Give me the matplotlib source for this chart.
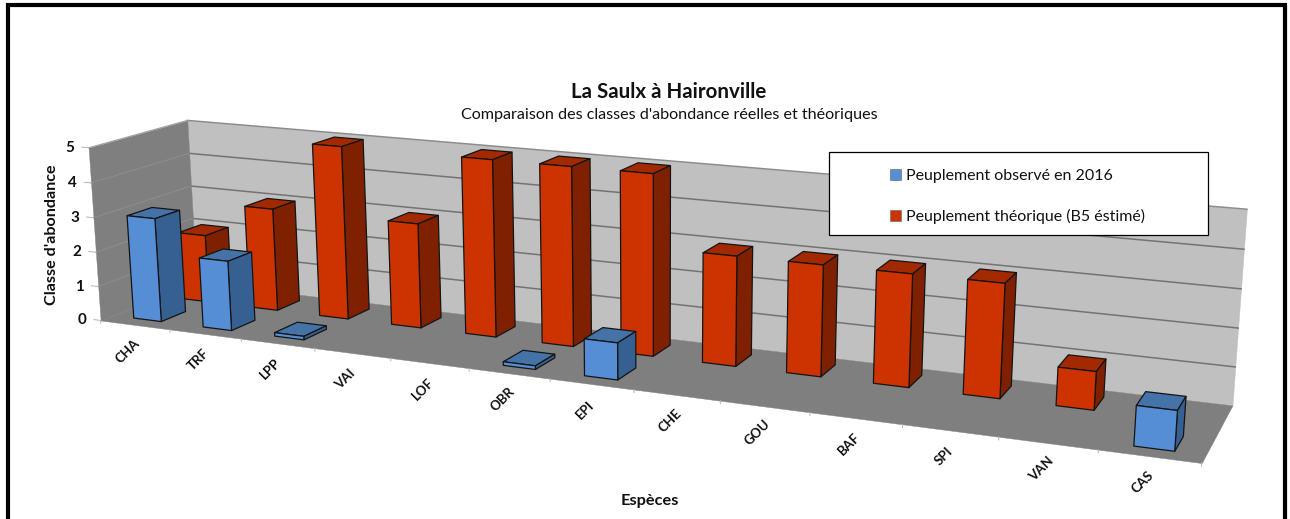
import numpy as np
import matplotlib
matplotlib.use("Agg")
import matplotlib.pyplot as plt
from matplotlib.patches import Patch, Rectangle
from mpl_toolkits.mplot3d import art3d, proj3d

plt.rcParams['font.family'] = ['Lato', 'DejaVu Sans']

# Data
especes = ['CHA', 'TRF', 'LPP', 'VAI', 'LOF', 'OBR', 'EPI', 'CHE', 'GOU', 'BAF', 'SPI', 'VAN', 'CAS']
observe = [3, 2, 0.1, 0, 0, 0.1, 1, 0, 0, 0, 0, 0, 1]
theorique = [2, 3, 5, 3, 5, 5, 5, 3, 3, 3, 3, 1, 0]
classes = [0, 1, 2, 3, 4, 5]

W, H = 1290, 519

# Camera calibration: scene point (category, depth, value) -> pixel in the picture
scene_pts = [
    (0, 0, 5), (0, 0, 0), (0, 1, 5), (0, 1, 0), (13, 1, 5), (13, 1, 0), (13, 0, 0),
    (.3, .125, 0), (.7, .125, 0), (.7, .375, 0), (.3, .125, 3), (.7, .125, 3), (.7, .375, 3), (.3, .375, 3),
    (12.3, .125, 0), (12.7, .125, 0), (12.7, .375, 0), (12.3, .125, 1), (12.7, .125, 1), (12.7, .375, 1), (12.3, .375, 1),
    (11.3, .625, 0), (11.7, .625, 0), (11.3, .625, 1), (11.7, .625, 1), (11.7, .875, 1), (11.3, .875, 1),
    (2.3, .625, 5), (2.7, .625, 5), (2.3, .625, 0), (2.7, .625, 0), (2.7, .875, 5),
    (4.7, .875, 5), (6.3, .625, 5), (6.7, .625, 5), (6.7, .875, 5),
    (6.3, .125, 0), (6.7, .125, 0), (6.7, .375, 0), (6.3, .125, 1), (6.7, .125, 1), (6.7, .375, 1), (6.3, .375, 1),
]
pixel_pts = [
    (86, 147), (99, 321), (188, 120), (195, 283), (1247, 207), (1233, 405), (1201, 466),
    (135, 317), (163, 321), (183, 312), (129, 216), (157, 218), (177, 212), (151, 208),
    (1134, 445), (1176, 450), (1184, 438), (1136, 405), (1177, 410), (1185, 399), (1145, 393),
    (1057, 404), (1095, 408), (1058, 366), (1097, 370), (1105, 360), (1068, 356),
    (315, 143), (344, 145), (322, 315), (351, 318), (361, 141),
    (511, 153), (622, 172), (654, 174), (669, 166),
    (585, 375), (618, 379), (634, 370), (585, 338), (618, 342), (634, 333), (600, 329),
]

fig = plt.figure(figsize=(W / 100, H / 100), dpi=100, facecolor='white')

# 3D axes must stay square, so it overflows the figure vertically
haut = W / H
ax = fig.add_axes([0, (1 - haut) / 2, 1, haut], projection='3d', computed_zorder=False)
ax.set_proj_type('ortho')  # otherwise Line3D clips points by depth
ax.set_axis_off()
ax.patch.set_visible(False)
ax.apply_aspect()


def fit_camera():
    pix = np.array(pixel_pts, dtype=float)
    pix[:, 1] = H - pix[:, 1]
    uv = ax.transData.inverted().transform(pix)
    rows, rhs = [], []
    for (x, y, z), (u, v) in zip(scene_pts, uv):
        rows.append([x, y, z, 1, 0, 0, 0, 0, -u * x, -u * y, -u * z])
        rows.append([0, 0, 0, 0, x, y, z, 1, -v * x, -v * y, -v * z])
        rhs += [u, v]
    p = np.linalg.lstsq(np.array(rows), np.array(rhs), rcond=None)[0]
    return np.array([p[:4], p[4:8], [-0.1, 1, 0, 0], [p[8], p[9], p[10], 1]])


camera = fit_camera()
ax.get_proj = lambda: camera

# Walls and floor
nx, zmax = len(especes), classes[-1]
murs = [
    ([(0, 1, 0), (nx, 1, 0), (nx, 1, zmax), (0, 1, zmax)], '#c0c0c0'),
    ([(0, 0, 0), (0, 1, 0), (0, 1, zmax), (0, 0, zmax)], '#7f7f7f'),
    ([(0, 0, 0), (nx, 0, 0), (nx, 1, 0), (0, 1, 0)], '#7f7f7f'),
]
for verts, couleur in murs:
    ax.add_collection3d(art3d.Poly3DCollection([verts], facecolors=couleur, edgecolors=couleur,
                                               linewidths=0.3, zorder=1))

for c in classes:
    if 0 < c < zmax:
        ax.plot([0, nx], [1, 1], [c, c], color='#737373', lw=1.1, zorder=2)
        ax.plot([0, 0], [0, 1], [c, c], color='#8c8c8c', lw=0.8, zorder=2)
ax.plot([0, nx], [1, 1], [zmax, zmax], color='#8c8c8c', lw=1.1, zorder=2)
ax.plot([0, 0], [0, 1], [zmax, zmax], color='#a0a0a0', lw=0.8, zorder=2)

# Bars: only top, front and right faces are visible
vide = (0, 0, 0, 0)
largeur = 0.4
profondeur = 0.25


def draw_bars(values, y0, front, top, side, base_z):
    for i, v in enumerate(values):
        if v == 0:
            continue
        ax.bar3d(i + 0.5 - largeur / 2, y0, 0, largeur, profondeur, v, shade=False,
                 color=[vide, top, front, vide, vide, side],
                 edgecolors=[vide, '#141414', '#141414', vide, vide, '#141414'],
                 linewidths=0.9, zorder=base_z + i)


draw_bars(theorique, 0.625, '#cc3300', '#a32900', '#7f2100', 10)
draw_bars(observe, 0.125, '#558ed5', '#4572a7', '#376092', 40)

# Axis labels and tick marks
for c in classes:
    sx, sy, _ = proj3d.proj_transform(0, 0, c, camera)
    ax.annotate(str(c), (sx, sy), xytext=(-14, 0), textcoords='offset pixels', ha='right', va='center',
                fontsize=11, fontweight='bold', color='#111111')
    ax.plot([0, -0.1], [0, 0], [c, c], color='#b4b4b4', lw=0.7, zorder=2)

for i, nom in enumerate(especes):
    sx, sy, _ = proj3d.proj_transform(i + 0.5, 0, 0, camera)
    ax.annotate(nom, (sx, sy), xytext=(-7, -26), textcoords='offset pixels', ha='center', va='center',
                rotation=45, fontsize=9.5, fontweight='bold', color='#111111')
for i in range(nx + 1):
    ax.plot([i, i], [0, 0], [0, -0.08], color='#b4b4b4', lw=0.7, zorder=2)

# Texts, in picture coordinates
def fx(px):
    return px / W


def fy(py):
    return 1 - py / H


fig.text(fx(669), fy(92), 'La Saulx à Haironville', ha='center', va='center', fontsize=14.8, fontweight='bold', color='#111111')
fig.text(fx(669), fy(115), "Comparaison des classes d'abondance réelles et théoriques", ha='center', va='center',
         fontsize=11.6, color='#111111')
fig.text(fx(650), fy(501), 'Espèces', ha='center', va='center', fontsize=11.8, fontweight='bold', color='#111111')
fig.text(fx(52), fy(235), "Classe d'abondance", ha='center', va='center', rotation=90, fontsize=11.6, fontweight='bold',
         color='#111111')

# Legend box
fig.add_artist(Rectangle((fx(829), fy(235)), 379 / W, 83 / H, facecolor='white', edgecolor='black', lw=0.9, zorder=2))
poignees = [Patch(facecolor='#558ed5', edgecolor='#7f7f7f', lw=0.6), Patch(facecolor='#cc3300', edgecolor='#7f7f7f', lw=0.6)]
fig.legend(poignees, ['Peuplement observé en 2016', 'Peuplement théorique (B5 éstimé)'], loc='upper left',
           bbox_to_anchor=(fx(890), fy(169)), borderaxespad=0, borderpad=0, frameon=False, fontsize=11.5,
           handlelength=0.68, handleheight=0.68, handletextpad=0.3, labelspacing=1.62, labelcolor='#111111')

# Thick outer frame, open at the bottom
fig.add_artist(Rectangle((fx(8), fy(540)), 1277 / W, 535 / H, facecolor='none', edgecolor='black', lw=3, zorder=6))

fig.savefig('out.png', dpi=100)
